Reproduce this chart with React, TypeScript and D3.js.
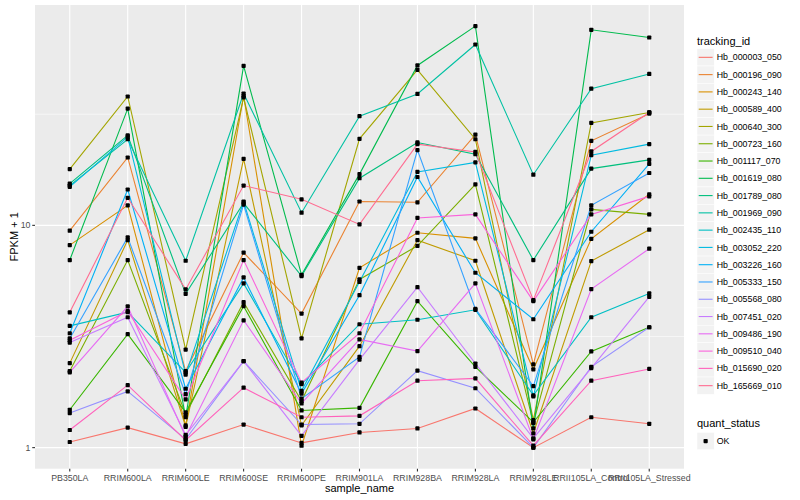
import * as d3 from 'd3';

const samples = [
  'PB350LA', 'RRIM600LA', 'RRIM600LE', 'RRIM600SE', 'RRIM600PE', 'RRIM901LA',
  'RRIM928BA', 'RRIM928LA', 'RRIM928LE', 'RRII105LA_Control', 'RRII105LA_Stressed',
];

// FPKM + 1 per sample, one array per gene
const hb000003_050 = [1.06, 1.23, 1.04, 1.27, 1.05, 1.17, 1.22, 1.5, 1.0, 1.37, 1.28];
const hb000196_090 = [9.46, 20.2, 2.21, 7.54, 4.01, 12.8, 12.7, 25.6, 2.37, 24.0, 31.8];
const hb000243_140 = [8.15, 12.3, 1.26, 38.2, 1.02, 6.44, 9.26, 8.74, 2.25, 8.7, 13.8];
const hb000589_400 = [2.4, 8.58, 1.24, 19.9, 1.26, 2.86, 8.58, 6.93, 1.16, 6.91, 9.56];
const hb000640_300 = [17.9, 38.0, 2.76, 37.6, 3.1, 24.5, 50.1, 24.4, 1.33, 28.9, 32.2];
const hb000723_160 = [2.21, 6.98, 1.41, 4.51, 1.62, 5.71, 8.09, 15.3, 1.29, 11.8, 11.2];
const hb001117_070 = [1.48, 3.24, 1.44, 4.33, 1.47, 1.51, 4.56, 2.31, 1.3, 2.71, 3.48];
const hb001619_080 = [6.98, 33.5, 1.37, 52.2, 5.99, 17.0, 52.4, 78.8, 1.22, 75.8, 70.0];
const hb001789_080 = [15.4, 25.4, 4.92, 12.6, 5.91, 16.3, 23.6, 20.9, 6.98, 18.0, 19.7];
const hb001969_090 = [15.1, 24.4, 6.93, 39.2, 11.4, 31.0, 39.0, 65.1, 16.9, 41.2, 48.0];
const hb002435_110 = [3.53, 4.07, 2.18, 5.48, 1.93, 3.59, 3.76, 4.17, 1.72, 3.86, 4.94];
const hb003052_220 = [14.9, 25.0, 2.13, 12.8, 1.8, 5.57, 17.4, 19.2, 1.7, 20.7, 23.2];
const hb003226_160 = [3.27, 14.5, 1.84, 5.83, 1.75, 4.85, 16.5, 6.12, 3.78, 9.36, 18.9];
const hb005333_150 = [3.1, 8.83, 1.74, 12.4, 1.66, 2.56, 21.8, 4.21, 1.89, 12.3, 17.2];
const hb005568_080 = [1.43, 1.79, 1.09, 2.45, 1.27, 1.28, 2.22, 1.85, 1.0, 2.31, 3.48];
const hb007451_020 = [2.97, 3.86, 1.14, 2.45, 1.13, 2.49, 5.27, 2.39, 1.1, 2.28, 4.77];
const hb009486_190 = [2.18, 4.32, 1.12, 3.74, 1.58, 3.07, 2.72, 5.48, 1.09, 5.17, 7.85];
const hb009510_040 = [3.04, 4.11, 1.65, 6.98, 1.96, 3.27, 10.8, 11.2, 4.56, 11.2, 13.5];
const hb015690_020 = [1.2, 1.91, 1.08, 1.86, 1.37, 1.39, 2.0, 2.05, 1.02, 2.0, 2.26];
const hb165669_010 = [4.06, 13.3, 5.15, 15.1, 13.1, 10.1, 23.2, 21.4, 4.61, 21.5, 32.2];

const trackingIds = [
  'Hb_000003_050', 'Hb_000196_090', 'Hb_000243_140', 'Hb_000589_400', 'Hb_000640_300',
  'Hb_000723_160', 'Hb_001117_070', 'Hb_001619_080', 'Hb_001789_080', 'Hb_001969_090',
  'Hb_002435_110', 'Hb_003052_220', 'Hb_003226_160', 'Hb_005333_150', 'Hb_005568_080',
  'Hb_007451_020', 'Hb_009486_190', 'Hb_009510_040', 'Hb_015690_020', 'Hb_165669_010',
];
const seriesValues = [
  hb000003_050, hb000196_090, hb000243_140, hb000589_400, hb000640_300,
  hb000723_160, hb001117_070, hb001619_080, hb001789_080, hb001969_090,
  hb002435_110, hb003052_220, hb003226_160, hb005333_150, hb005568_080,
  hb007451_020, hb009486_190, hb009510_040, hb015690_020, hb165669_010,
];
const colors = [
  '#F8766D', '#EA8331', '#D89000', '#C09B00', '#A3A500', '#7CAE00', '#39B600',
  '#00BB4E', '#00BF7D', '#00C1A3', '#00BFC4', '#00BAE0', '#00B0F6', '#35A2FF',
  '#9590FF', '#C77CFF', '#E76BF3', '#FA62DB', '#FF62BC', '#FF6C91',
];
const yBreaks = [1, 10];
const yMinor = [Math.sqrt(10), Math.sqrt(1000)];

const W = 800;
const H = 500;
const panel = { left: 35, right: 684, top: 5, bottom: 468.7 };
const font = '"Liberation Sans", Arial, sans-serif';
const pt = 4.2; // point size (px)

export default function App() {
  const all = seriesValues.flat();
  const [lo, hi] = d3.extent(all) as [number, number];
  const lLo = Math.log10(lo);
  const lHi = Math.log10(hi);
  const pad = (lHi - lLo) * 0.05;
  const y = d3
    .scaleLog()
    .domain([10 ** (lLo - pad), 10 ** (lHi + pad)])
    .range([panel.bottom, panel.top]);
  const x = d3
    .scalePoint<string>()
    .domain(samples)
    .range([panel.left, panel.right])
    .padding(0.6);

  const line = d3
    .line<number>()
    .x((_, i) => x(samples[i]) as number)
    .y((d) => y(d));

  const keySize = 17.28;
  const legendTop = 48.7;

  return (
    <svg
      width={W}
      height={H}
      style={{ position: 'absolute', left: 0, top: 0, background: '#fff' }}
      fontFamily={font}
    >
      <rect
        x={panel.left}
        y={panel.top}
        width={panel.right - panel.left}
        height={panel.bottom - panel.top}
        fill="#EBEBEB"
      />
      {yMinor.map((v) => (
        <line key={'mn' + v} x1={panel.left} x2={panel.right} y1={y(v)} y2={y(v)} stroke="#fff" strokeWidth={0.55} />
      ))}
      {yBreaks.map((v) => (
        <line key={'mj' + v} x1={panel.left} x2={panel.right} y1={y(v)} y2={y(v)} stroke="#fff" strokeWidth={1.1} />
      ))}
      {samples.map((s) => (
        <line key={'gx' + s} x1={x(s)} x2={x(s)} y1={panel.top} y2={panel.bottom} stroke="#fff" strokeWidth={1.1} />
      ))}

      {seriesValues.map((vals, i) => (
        <path key={'l' + i} d={line(vals) ?? ''} fill="none" stroke={colors[i]} strokeWidth={1.1} />
      ))}
      {seriesValues.map((vals, i) =>
        vals.map((v, j) => (
          <rect
            key={'p' + i + '-' + j}
            x={(x(samples[j]) as number) - pt / 2}
            y={y(v) - pt / 2}
            width={pt}
            height={pt}
            rx={0.9}
            fill="#000"
          />
        ))
      )}

      {/* y axis */}
      {yBreaks.map((v) => (
        <g key={'yt' + v}>
          <line x1={panel.left - 2.75} x2={panel.left} y1={y(v)} y2={y(v)} stroke="#333" strokeWidth={1.1} />
          <text x={panel.left - 4.5} y={y(v)} dy="0.35em" textAnchor="end" fontSize={8.8} fill="#4D4D4D">
            {v}
          </text>
        </g>
      ))}
      <text
        transform={`translate(14, ${(panel.top + panel.bottom) / 2}) rotate(-90)`}
        textAnchor="middle"
        dy="0.35em"
        fontSize={11}
        fill="#000"
      >
        FPKM + 1
      </text>

      {/* x axis */}
      {samples.map((s) => (
        <g key={'xt' + s}>
          <line x1={x(s)} x2={x(s)} y1={panel.bottom} y2={panel.bottom + 2.75} stroke="#333" strokeWidth={1.1} />
          <text x={x(s)} y={panel.bottom + 12.2} textAnchor="middle" fontSize={8.8} fill="#4D4D4D">
            {s}
          </text>
        </g>
      ))}
      <text x={(panel.left + panel.right) / 2} y={492} textAnchor="middle" fontSize={11} fill="#000">
        sample_name
      </text>

      {/* legend: tracking_id */}
      <text x={697} y={44.5} fontSize={11} fill="#000">
        tracking_id
      </text>
      {trackingIds.map((id, i) => {
        const top = legendTop + i * keySize;
        return (
          <g key={'lg' + id}>
            <rect x={697} y={top} width={keySize} height={keySize} fill="#F2F2F2" stroke="#fff" strokeWidth={0.5} />
            <line x1={698.7} x2={712.6} y1={top + keySize / 2} y2={top + keySize / 2} stroke={colors[i]} strokeWidth={1.1} />
            <text x={716.7} y={top + keySize / 2} dy="0.35em" fontSize={8.8} fill="#000">
              {id}
            </text>
          </g>
        );
      })}

      {/* legend: quant_status */}
      <text x={697} y={427} fontSize={11} fill="#000">
        quant_status
      </text>
      <rect x={697} y={432.4} width={keySize} height={keySize} fill="#F2F2F2" stroke="#fff" strokeWidth={0.5} />
      <rect
        x={697 + keySize / 2 - pt / 2}
        y={432.4 + keySize / 2 - pt / 2}
        width={pt}
        height={pt}
        rx={0.9}
        fill="#000"
      />
      <text x={716.7} y={432.4 + keySize / 2} dy="0.35em" fontSize={8.8} fill="#000">
        OK
      </text>
    </svg>
  );
}
